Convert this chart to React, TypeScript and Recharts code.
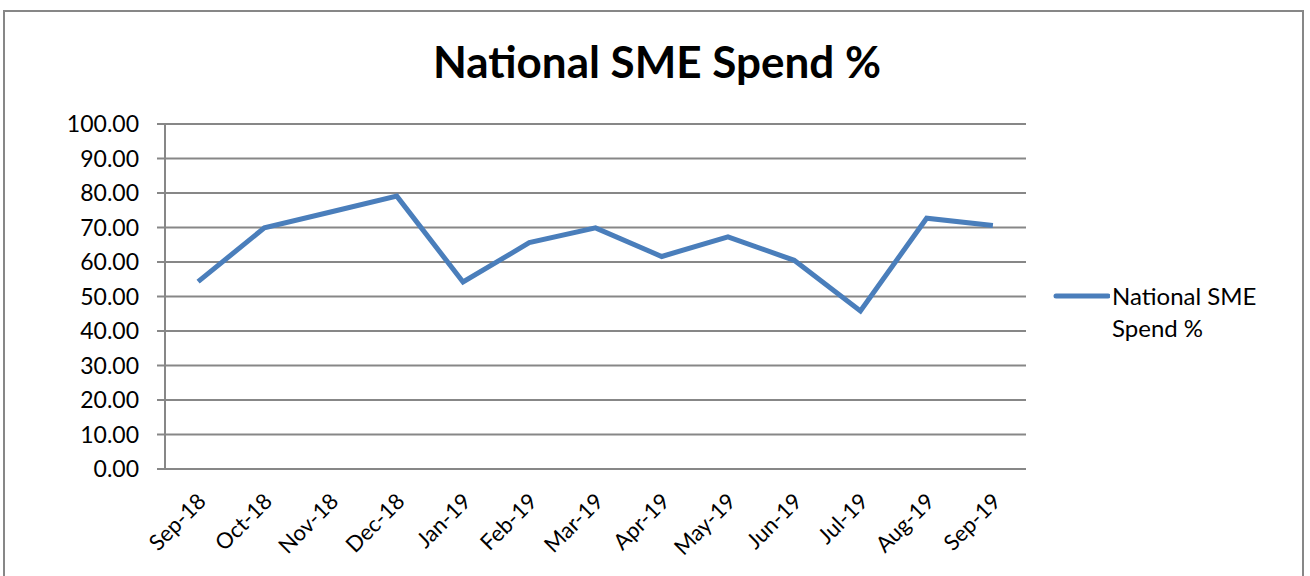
import React from 'react';
import { LineChart, Line, XAxis, YAxis, CartesianGrid } from 'recharts';

const months = ['Sep-18', 'Oct-18', 'Nov-18', 'Dec-18', 'Jan-19', 'Feb-19', 'Mar-19', 'Apr-19', 'May-19', 'Jun-19', 'Jul-19', 'Aug-19', 'Sep-19'];
const spend = [54.3, 69.9, 74.5, 79.1, 54.2, 65.6, 69.9, 61.6, 67.3, 60.5, 45.8, 72.7, 70.6];
const yTicks = [0, 10, 20, 30, 40, 50, 60, 70, 80, 90, 100];
const boundaryTicks = [0, 1, 2, 3, 4, 5, 6, 7, 8, 9, 10, 11, 12, 13];
const seriesName = 'National SME Spend %';
const title = 'National SME Spend %';

const data = months.map((m, i) => ({ month: m, idx: i + 0.5, value: spend[i] }));

const FONT = 'Lato, "Open Sans", sans-serif';
const GRAY = '#878787';
const BLUE = '#4a7ebb';

const RotTick = (props: any) => {
  const { x, y, payload } = props;
  return (
    <g transform={`translate(${x},${y})`}>
      <text
        x={0}
        y={0}
        dx={-16}
        dy={29}
        textAnchor="end"
        transform="rotate(-45)"
        fontFamily={FONT}
        fontSize={22}
        fill="#000"
      >
        {payload.value}
      </text>
    </g>
  );
};

export default function App() {
  return (
    <div style={{ position: 'absolute', left: 0, top: 0, width: 1310, height: 576, overflow: 'hidden', background: '#fff' }}>
      <div
        style={{
          position: 'absolute',
          left: 3,
          top: 10,
          width: 1301,
          height: 620,
          border: `2px solid ${GRAY}`,
          boxSizing: 'border-box',
        }}
      />
      <div
        style={{
          position: 'absolute',
          left: 0,
          top: 34,
          width: 1314,
          textAlign: 'center',
          fontFamily: FONT,
          fontWeight: 'bold',
          fontSize: 44,
          color: '#000',
          lineHeight: '54px',
        }}
      >
        {title}
      </div>
      <div style={{ position: 'absolute', left: 0, top: 0 }}>
        <LineChart
          width={1310}
          height={576}
          data={data}
          margin={{ top: 124, right: 284, bottom: 0, left: 105 }}
        >
          <CartesianGrid horizontal={true} vertical={false} stroke={GRAY} strokeWidth={2} xAxisId="grid" />
          <XAxis
            xAxisId="grid"
            type="number"
            dataKey="idx"
            domain={[0, 13]}
            ticks={boundaryTicks}
            allowDataOverflow
            tickFormatter={() => ''}
            axisLine={{ stroke: GRAY, strokeWidth: 2 }}
            tickLine={{ stroke: GRAY, strokeWidth: 2 }}
            tickSize={8}
            height={0}
          />
          <XAxis
            xAxisId="cat"
            type="category"
            dataKey="month"
            scale="band"
            axisLine={false}
            tickLine={false}
            tickSize={0}
            interval={0}
            tick={<RotTick />}
            height={107}
          />
          <YAxis
            type="number"
            domain={[0, 100]}
            ticks={yTicks}
            interval={0}
            tickFormatter={(v: number) => v.toFixed(2)}
            axisLine={{ stroke: GRAY, strokeWidth: 2 }}
            tickLine={{ stroke: GRAY, strokeWidth: 2 }}
            tickSize={8}
            tickMargin={18}
            tick={{ fontFamily: FONT, fontSize: 23, fill: '#000' }}
            width={60}
          />
          <Line
            xAxisId="grid"
            type="linear"
            dataKey="value"
            name={seriesName}
            stroke={BLUE}
            strokeWidth={5}
            dot={false}
            activeDot={false}
            isAnimationActive={false}
          />
        </LineChart>
      </div>
      <div
        style={{
          position: 'absolute',
          left: 1052,
          top: 282,
          display: 'flex',
          alignItems: 'flex-start',
          fontFamily: FONT,
          fontSize: 24,
          color: '#000',
        }}
      >
        <svg width={58} height={30}>
          <line x1={4} y1={14} x2={56} y2={14} stroke={BLUE} strokeWidth={5} strokeLinecap="round" />
        </svg>
        <div style={{ lineHeight: '32px', marginTop: -2, marginLeft: 2 }}>
          National SME
          <br />
          Spend %
        </div>
      </div>
    </div>
  );
}
